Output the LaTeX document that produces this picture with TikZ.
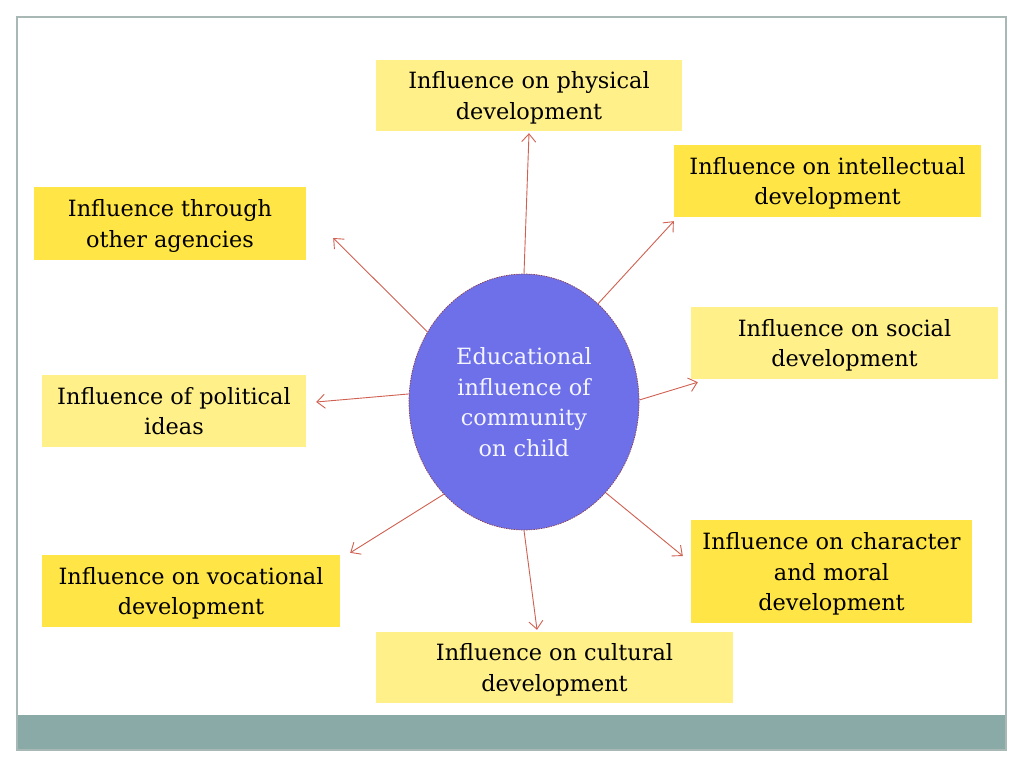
\documentclass[tikz,border=0pt]{standalone}
\usepackage{fontspec}
\setmainfont{DejaVu Serif}
\usetikzlibrary{shapes.geometric,arrows.meta,calc}
\definecolor{ly}{HTML}{FFF08A}
\definecolor{dy}{HTML}{FFE546}
\definecolor{ellc}{HTML}{6D70E9}
\definecolor{ellb}{HTML}{8A4050}
\definecolor{arrc}{HTML}{D06050}
\definecolor{framec}{HTML}{A8B8B5}
\definecolor{bandc}{HTML}{8AAAA8}
\begin{document}
\begin{tikzpicture}[x=1pt,y=-1pt,
  box/.style={inner sep=0pt, align=center, text depth=0pt, font=\fontsize{22.4}{30.5}\selectfont, text=black},
  lbox/.style={box, fill=ly},
  dbox/.style={box, fill=dy},
  conn/.style={draw=arrc, line width=0.9pt, -{Straight Barb[length=8pt,width=14pt]}}
]
\useasboundingbox (0,0) rectangle (1024,768);
\fill[white] (0,0) rectangle (1024,768);
\fill[bandc] (17,715) rectangle (1006,750);
\draw[framec, line width=1.5pt] (17,17) rectangle (1006,750);

\node[lbox, minimum width=306, minimum height=71] (phys) at (529,95.5) {Influence on physical\\development};
\node[dbox, minimum width=307, minimum height=72] (intel) at (827.5,181) {Influence on intellectual\\development};
\node[dbox, minimum width=272, minimum height=73] (agen) at (170,223.5) {Influence through\\other agencies};
\node[lbox, minimum width=307, minimum height=72] (soc) at (844.5,343) {Influence on social\\development};
\node[lbox, minimum width=264, minimum height=72] (pol) at (174,411) {Influence of political\\ideas};
\node[dbox, minimum width=298, minimum height=72] (voc) at (191,591) {Influence on vocational\\development};
\node[dbox, minimum width=281, minimum height=103] (char) at (831.5,571.5) {Influence on character\\and moral\\development};
\node[lbox, minimum width=357, minimum height=71] (cult) at (554.5,667.5) {Influence on cultural\\development};

\node[ellipse, minimum width=230, minimum height=256, inner sep=0pt, fill=ellc, draw=ellb, dashed, dash pattern=on 1.5pt off 1pt, line width=0.7pt,
  align=center, text=white!96!blue, font=\fontsize{22.4}{30.7}\selectfont] (e) at (524,402) {Educational\\influence of\\community\\on child};

\draw[conn] (e.90) -- ($(phys.south)+(0,2)$);
\draw[conn] (e.53.5) -- ($(intel.south west)+(0,4)$);
\draw[conn] (e.144.8) -- ($(agen.east)+(27,14.5)$);
\draw[conn] (e.1) -- ($(soc.south west)+(7,3)$);
\draw[conn] (e.176) -- ($(pol.east)+(10,-9)$);
\draw[conn] (e.229) -- ($(voc.north east)+(10,-2)$);
\draw[conn] (e.312) -- ($(char.west)+(-8,-15.5)$);
\draw[conn] (e.270) -- ($(cult.north)+(-17.5,-2)$);
\end{tikzpicture}
\end{document}
